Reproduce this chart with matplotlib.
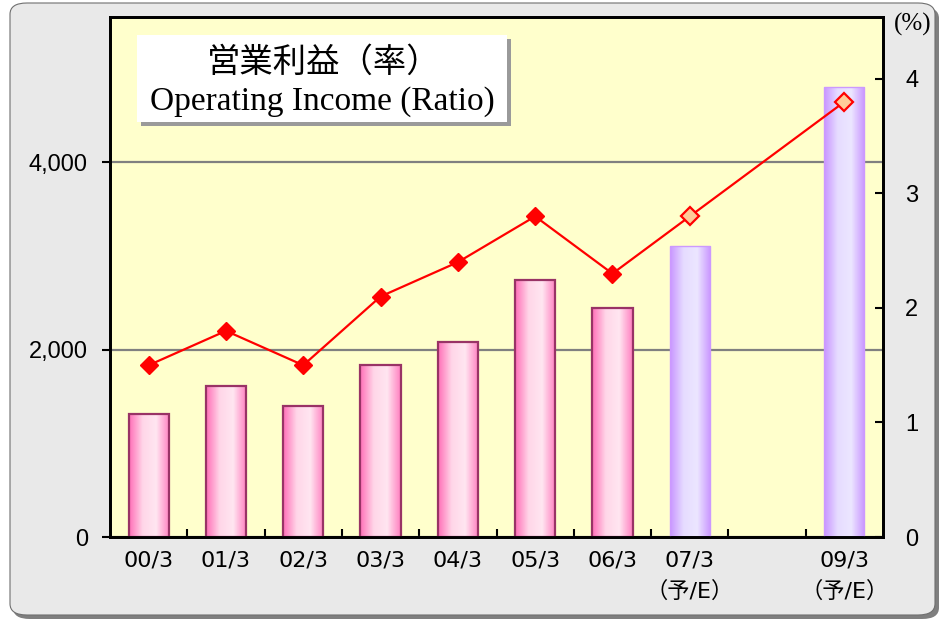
import numpy as np
import matplotlib
matplotlib.use('Agg')
import matplotlib.pyplot as plt
from matplotlib.patches import FancyBboxPatch, Rectangle
from matplotlib.colors import LinearSegmentedColormap

# ---- data ----
periods = ['00/3', '01/3', '02/3', '03/3', '04/3', '05/3', '06/3',
           '07/3\n（予/E）', '', '09/3\n（予/E）']
income = [1310, 1610, 1400, 1830, 2080, 2740, 2440, 3100, np.nan, 4800]
ratio = [1.5, 1.8, 1.5, 2.1, 2.4, 2.8, 2.3, 2.8, np.nan, 3.8]
forecast = [False, False, False, False, False, False, False, True, False, True]

left_ticks = [0, 2000, 4000]
left_ticklabels = ['0', '2,000', '4,000']
right_ticks = [0, 1, 2, 3, 4]

W, H = 939, 625
fig = plt.figure(figsize=(W / 100, H / 100), dpi=100, facecolor='white')

def fx(px):
    return px / W

def fy(py):
    return 1 - py / H

# gray rounded panel with shadow
fig.add_artist(FancyBboxPatch((fx(13), fy(619)), fx(926), fy(7) - fy(619),
                              boxstyle='round,pad=0,rounding_size=0.018',
                              transform=fig.transFigure, facecolor='#7f7f7f',
                              edgecolor='none', zorder=0))
fig.add_artist(FancyBboxPatch((fx(10), fy(615)), fx(925), fy(3) - fy(615),
                              boxstyle='round,pad=0,rounding_size=0.018',
                              transform=fig.transFigure, facecolor='#e9e9e9',
                              edgecolor='#6f6f6f', linewidth=0.8, zorder=0))

ax = fig.add_axes([fx(110), fy(537), fx(883) - fx(110), fy(17) - fy(537)])
ax.set_facecolor('#ffffcc')
ax2 = ax.twinx()

x = np.arange(len(periods))
pink = LinearSegmentedColormap.from_list('pink', ['#ff70b8', '#ffd6e8', '#ffe6f1', '#ff80c0'])
lilac = LinearSegmentedColormap.from_list('lilac', ['#c996ff', '#e6dcff', '#ece6ff', '#c996ff'])
grad = np.linspace(0, 1, 64).reshape(1, -1)

bars = ax.bar(x, np.nan_to_num(income), width=0.52, facecolor='none', zorder=3)
for rect, fc in zip(bars, forecast):
    h = rect.get_height()
    if h <= 0:
        rect.set_visible(False)
        continue
    x0 = rect.get_x()
    x1 = x0 + rect.get_width()
    im = ax.imshow(grad, extent=[x0, x1, 0, h], cmap=lilac if fc else pink,
                   aspect='auto', zorder=2, interpolation='bilinear')
    im.set_clip_path(rect)
    if fc:
        rect.set_edgecolor('#cc99ff')
        rect.set_linewidth(1)
    else:
        rect.set_edgecolor('#993366')
        rect.set_linewidth(1.6)

ax.set_xlim(-0.5, len(periods) - 0.5)
ax.set_ylim(0, 5547)
ax.set_yticks(left_ticks)
ax.set_yticklabels(left_ticklabels, family='Liberation Sans', fontsize=17)
ax.yaxis.grid(True, color='#808080', linewidth=1.6)
ax.set_axisbelow(True)
ax.tick_params(axis='y', direction='out', length=6, width=1.5, pad=10)

ax.set_xticks(x)
ax.set_xticklabels(periods, family=['DejaVu Sans', 'Noto Sans CJK JP'],
                   fontsize=16, linespacing=1.55, va='top')
ax.tick_params(axis='x', which='major', length=0, pad=10)
ax.set_xticks(x[:-1] + 0.5, minor=True)
ax.tick_params(axis='x', which='minor', direction='in', length=6, width=1.5)

# ratio line (skips the empty 08/3 slot)
mask = ~np.isnan(ratio)
xr = x[mask]
yr = np.array(ratio)[mask]
fr = np.array(forecast)[mask]
ax2.plot(xr, yr, color='#ff0000', linewidth=1.6, zorder=4)
ax2.plot(xr[~fr], yr[~fr], linestyle='none', marker='D', markersize=9,
         markerfacecolor='#ff0000', markeredgecolor='#ff0000', zorder=5)
ax2.plot(xr[fr], yr[fr], linestyle='none', marker='D', markersize=9,
         markerfacecolor='#ffcc99', markeredgecolor='#ff0000',
         markeredgewidth=1.6, zorder=5)
ax2.set_ylim(0, 4.541)
ax2.set_yticks(right_ticks)
ax2.set_yticklabels([str(t) for t in right_ticks], family='Liberation Sans', fontsize=17)
ax2.tick_params(axis='y', direction='in', length=6, width=1.5, pad=16)

for a in (ax, ax2):
    for s in a.spines.values():
        s.set_linewidth(2)
        s.set_color('black')

fig.text(fx(913), fy(24), '(%)', family='Liberation Serif', fontsize=18,
         ha='center', va='center')

# title box
fig.add_artist(Rectangle((fx(141), fy(126)), fx(370), fy(35) - fy(122),
                         transform=fig.transFigure, facecolor='#9a9a9a',
                         edgecolor='none', zorder=5))
fig.add_artist(Rectangle((fx(137), fy(122)), fx(370), fy(35) - fy(122),
                         transform=fig.transFigure, facecolor='white',
                         edgecolor='none', zorder=6))
fig.text(fx(324), fy(62), '営業利益（率）', family=['Noto Sans CJK JP', 'DejaVu Sans'],
         fontsize=24, ha='center', va='center', zorder=7)
fig.text(fx(322), fy(102), 'Operating Income (Ratio)', family='Liberation Serif',
         fontsize=24, ha='center', va='center', zorder=7)

fig.savefig('out.png', dpi=100, facecolor='white')
